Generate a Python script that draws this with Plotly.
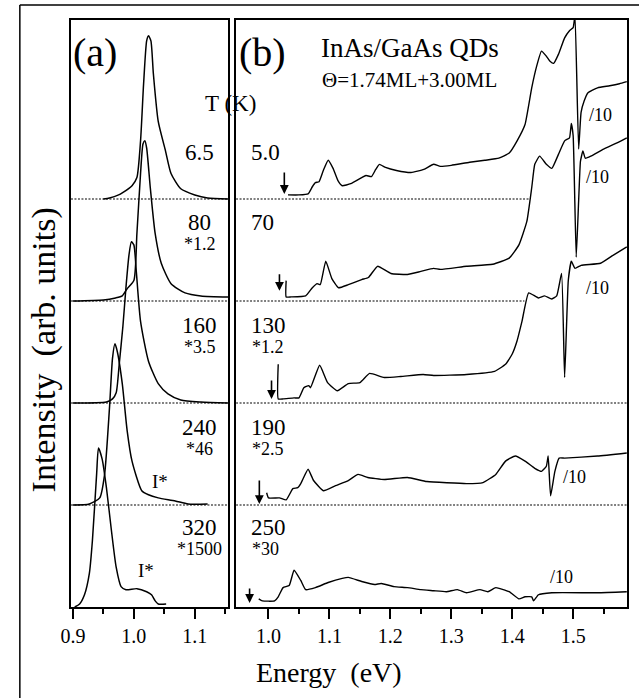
import plotly.graph_objects as go

# ---------------- data (energies in eV, heights in strip units) ----------------
# Panel (a): PL spectra, offsets 4..0
E_a65 = [0.950, 0.960, 0.975, 0.981, 0.997, 1.005, 1.011, 1.016, 1.021, 1.024, 1.028, 1.032, 1.040, 1.052, 1.061, 1.077, 1.100, 1.121, 1.155]
h_a65 = [0.00, 0.01, 0.04, 0.06, 0.13, 0.21, 0.57, 1.13, 1.55, 1.60, 1.55, 1.23, 0.76, 0.47, 0.25, 0.10, 0.04, 0.01, 0.00]

E_a80 = [0.900, 0.950, 0.970, 0.981, 0.989, 1.000, 1.005, 1.011, 1.015, 1.018, 1.021, 1.027, 1.035, 1.045, 1.061, 1.084, 1.110, 1.155]
h_a80 = [0.00, 0.01, 0.03, 0.05, 0.12, 0.20, 0.66, 1.25, 1.54, 1.57, 1.50, 1.11, 0.66, 0.37, 0.17, 0.08, 0.05, 0.04]

E_a160 = [0.900, 0.955, 0.965, 0.971, 0.976, 0.982, 0.987, 0.992, 0.996, 1.000, 1.004, 1.011, 1.024, 1.040, 1.056, 1.077, 1.110, 1.155]
h_a160 = [0.00, 0.01, 0.04, 0.10, 0.38, 0.75, 1.13, 1.45, 1.58, 1.55, 1.29, 0.80, 0.41, 0.19, 0.09, 0.03, 0.01, 0.00]

E_a240 = [0.900, 0.927, 0.944, 0.952, 0.960, 0.965, 0.969, 0.973, 0.981, 0.989, 0.997, 1.013, 1.024, 1.040, 1.068, 1.089, 1.121]
h_a240 = [0.00, 0.01, 0.07, 0.30, 0.95, 1.44, 1.58, 1.50, 1.19, 0.73, 0.43, 0.14, 0.10, 0.07, 0.04, 0.01, 0.01]

E_a320 = [0.903, 0.911, 0.919, 0.927, 0.932, 0.939, 0.942, 0.948, 0.955, 0.963, 0.971, 0.979, 0.987, 1.005, 1.021, 1.029, 1.035, 1.040, 1.053]
h_a320 = [0.00, 0.03, 0.12, 0.33, 0.65, 1.31, 1.56, 1.45, 1.17, 0.76, 0.39, 0.20, 0.17, 0.18, 0.15, 0.12, 0.06, 0.03, 0.03]

# Panel (b): PLE spectra
E_b5 = [1.032, 1.050, 1.065, 1.072, 1.077, 1.083, 1.090, 1.098, 1.106, 1.114, 1.121, 1.135, 1.153, 1.160, 1.169, 1.176, 1.182, 1.192, 1.210, 1.234, 1.255, 1.271, 1.282, 1.300, 1.330, 1.355, 1.378, 1.395, 1.408, 1.421, 1.432, 1.440, 1.448, 1.456, 1.462, 1.468, 1.476, 1.486, 1.494, 1.500, 1.503, 1.509, 1.513, 1.518, 1.524, 1.540, 1.560, 1.576, 1.588]
h_b5 = [0.04, 0.04, 0.05, 0.12, 0.16, 0.17, 0.28, 0.38, 0.30, 0.18, 0.13, 0.15, 0.21, 0.23, 0.22, 0.29, 0.34, 0.31, 0.28, 0.26, 0.29, 0.34, 0.32, 0.33, 0.36, 0.38, 0.40, 0.45, 0.57, 0.73, 1.09, 1.30, 1.45, 1.40, 1.35, 1.33, 1.42, 1.58, 1.65, 1.68, 1.80, 0.49, 0.85, 0.96, 1.04, 1.09, 1.11, 1.13, 1.15]

E_b70 = [1.029, 1.029, 1.037, 1.061, 1.072, 1.080, 1.085, 1.094, 1.104, 1.115, 1.131, 1.153, 1.164, 1.179, 1.201, 1.228, 1.250, 1.271, 1.282, 1.325, 1.368, 1.395, 1.411, 1.424, 1.432, 1.437, 1.445, 1.456, 1.465, 1.476, 1.486, 1.494, 1.497, 1.500, 1.505, 1.509, 1.512, 1.516, 1.520, 1.529, 1.550, 1.572, 1.588]
h_b70 = [0.20, 0.04, 0.04, 0.05, 0.13, 0.17, 0.16, 0.39, 0.22, 0.13, 0.16, 0.21, 0.23, 0.34, 0.27, 0.26, 0.29, 0.32, 0.31, 0.34, 0.36, 0.42, 0.55, 0.78, 1.11, 1.34, 1.42, 1.34, 1.30, 1.44, 1.57, 1.60, 1.74, 1.62, 0.43, 0.98, 1.37, 1.47, 1.40, 1.42, 1.49, 1.55, 1.60]

E_b130 = [1.016, 1.016, 1.024, 1.042, 1.050, 1.058, 1.066, 1.069, 1.084, 1.097, 1.113, 1.131, 1.150, 1.166, 1.190, 1.217, 1.254, 1.271, 1.325, 1.371, 1.389, 1.400, 1.408, 1.416, 1.427, 1.443, 1.453, 1.465, 1.473, 1.481, 1.486, 1.492, 1.497, 1.503, 1.513, 1.545, 1.566, 1.588]
h_b130 = [0.38, 0.04, 0.04, 0.05, 0.05, 0.15, 0.17, 0.15, 0.37, 0.20, 0.12, 0.19, 0.20, 0.29, 0.25, 0.26, 0.28, 0.27, 0.28, 0.31, 0.38, 0.48, 0.61, 0.80, 1.08, 1.03, 1.05, 1.02, 1.05, 1.27, 0.25, 1.20, 1.39, 1.32, 1.35, 1.37, 1.45, 1.53]

E_b190 = [0.997, 1.000, 1.018, 1.029, 1.040, 1.048, 1.053, 1.065, 1.074, 1.090, 1.110, 1.131, 1.147, 1.163, 1.190, 1.228, 1.260, 1.325, 1.352, 1.373, 1.389, 1.405, 1.421, 1.437, 1.448, 1.456, 1.459, 1.463, 1.470, 1.477, 1.486, 1.540, 1.588]
h_b190 = [0.12, 0.07, 0.07, 0.05, 0.16, 0.17, 0.21, 0.35, 0.24, 0.14, 0.19, 0.24, 0.30, 0.27, 0.25, 0.27, 0.23, 0.21, 0.22, 0.30, 0.43, 0.48, 0.43, 0.36, 0.33, 0.38, 0.48, 0.09, 0.33, 0.46, 0.46, 0.48, 0.51]

E_b250 = [0.984, 0.990, 1.010, 1.016, 1.024, 1.034, 1.042, 1.053, 1.061, 1.077, 1.098, 1.121, 1.131, 1.153, 1.174, 1.185, 1.206, 1.228, 1.250, 1.271, 1.292, 1.310, 1.325, 1.347, 1.360, 1.373, 1.395, 1.411, 1.421, 1.432, 1.435, 1.443, 1.465, 1.540, 1.588]
h_b250 = [0.08, 0.06, 0.06, 0.10, 0.19, 0.21, 0.36, 0.26, 0.17, 0.19, 0.24, 0.28, 0.29, 0.25, 0.22, 0.23, 0.20, 0.19, 0.17, 0.16, 0.15, 0.17, 0.14, 0.17, 0.15, 0.19, 0.15, 0.08, 0.10, 0.10, 0.06, 0.12, 0.14, 0.14, 0.15]

offsets = [4, 3, 2, 1, 0]
temps_a = ["6.5", "80", "160", "240", "320"]
scales_a = ["", "*1.2", "*3.5", "*46", "*1500"]
temps_b = ["5.0", "70", "130", "190", "250"]
scales_b = ["", "", "*1.2", "*2.5", "*30"]
arrow_E = [1.026, 1.018, 1.005, 0.985, 0.969]
arrow_h = [0.05, 0.10, 0.04, 0.01, 0.04]
arrow_len = [23, 18, 20, 25, 16]
baseline_end_b = [1.427, 1.420, 1.5887, 1.5887]

spectra_a = [(E_a65, h_a65), (E_a80, h_a80), (E_a160, h_a160), (E_a240, h_a240), (E_a320, h_a320)]
spectra_b = [(E_b5, h_b5), (E_b70, h_b70), (E_b130, h_b130), (E_b190, h_b190), (E_b250, h_b250)]

W, H = 639, 698
FONT = "Liberation Serif"

def px(x):
    return x / W

def py(y):
    return 1 - y / H

fig = go.Figure()

# dotted baselines
for i, off in enumerate([4, 3, 2, 1]):
    fig.add_trace(go.Scatter(x=[0.8968, 1.1548], y=[off, off], mode="lines",
                             line=dict(color="black", width=1.1, dash="2px,1.5px"),
                             xaxis="x", yaxis="y", showlegend=False, hoverinfo="skip"))
    fig.add_trace(go.Scatter(x=[0.9468, baseline_end_b[i]], y=[off, off], mode="lines",
                             line=dict(color="black", width=1.1, dash="2px,1.5px"),
                             xaxis="x2", yaxis="y2", showlegend=False, hoverinfo="skip"))

for (E, h), off in zip(spectra_a, offsets):
    fig.add_trace(go.Scatter(x=E, y=[v + off for v in h], mode="lines",
                             line=dict(color="black", width=1.5, shape="spline", smoothing=0.6),
                             xaxis="x", yaxis="y", showlegend=False))

for (E, h), off in zip(spectra_b, offsets):
    fig.add_trace(go.Scatter(x=E, y=[v + off for v in h], mode="lines",
                             line=dict(color="black", width=1.4, shape="spline", smoothing=0.4),
                             xaxis="x2", yaxis="y2", showlegend=False))

axis_common = dict(showline=True, mirror=True, linecolor="black", linewidth=2,
                   showgrid=False, zeroline=False)
yr = [0, (607 - 20) / 102]
fig.update_layout(
    width=W, height=H, margin=dict(l=0, r=0, t=0, b=0),
    paper_bgcolor="white", plot_bgcolor="white",
    xaxis=dict(domain=[px(61), px(221)], range=[0.8968, 1.1548],
               tickvals=[0.9, 1.0, 1.1], ticktext=["0.9", "1.0", "1.1"],
               ticks="outside", ticklen=10, tickwidth=2, tickcolor="black",
               tickfont=dict(size=20, family=FONT, color="black"),
               minor=dict(tickvals=[0.95, 1.05, 1.15], ticks="outside", ticklen=5,
                          tickwidth=2, tickcolor="black"),
               anchor="y", **axis_common),
    yaxis=dict(domain=[py(607), py(20)], range=yr, showticklabels=False, ticks="",
               anchor="x", **axis_common),
    xaxis2=dict(domain=[px(229), px(627)], range=[0.9468, 1.5887],
                tickvals=[1.0, 1.1, 1.2, 1.3, 1.4, 1.5],
                ticktext=["1.0", "1.1", "1.2", "1.3", "1.4", "1.5"],
                ticks="outside", ticklen=10, tickwidth=2, tickcolor="black",
                tickfont=dict(size=20, family=FONT, color="black"),
                minor=dict(tickvals=[1.05, 1.15, 1.25, 1.35, 1.45, 1.55], ticks="outside",
                           ticklen=5, tickwidth=2, tickcolor="black"),
                anchor="y2", **axis_common),
    yaxis2=dict(domain=[py(607), py(20)], range=yr, showticklabels=False, ticks="",
                anchor="x2", **axis_common),
)

ann = []
def add_text(x, y, s, size, xanchor="center"):
    ann.append(dict(x=px(x), y=py(y), xref="paper", yref="paper", text=s, showarrow=False,
                    xanchor=xanchor, yanchor="middle",
                    font=dict(family=FONT, size=size, color="black")))

add_text(85, 53, "(a)", 40)
add_text(256, 53, "(b)", 40)
add_text(313, 48, "InAs/GaAs QDs", 27, "left")
add_text(314, 80, "Θ=1.74ML+3.00ML", 21, "left")
add_text(223, 103, "T (K)", 23)

row_y = [152, 222, 325, 427, 527]
for i in range(5):
    add_text(192, row_y[i], temps_a[i], 23)
    add_text(242, row_y[i], temps_b[i], 23, "left")
    if scales_a[i]:
        add_text(192, row_y[i] + 22, scales_a[i], 18)
    if scales_b[i]:
        add_text(243, row_y[i] + 22, scales_b[i], 18, "left")

for (x, y) in [(600, 115), (597, 177), (597, 288), (573, 477), (560, 577)]:
    add_text(x, y, "/10", 18)

add_text(152, 482, "I*", 19)
add_text(137, 570, "I*", 19)

add_text(324, 672, "Energy\u00a0\u00a0(eV)", 28)
ann.append(dict(x=px(34), y=py(350), xref="paper", yref="paper",
                text="Intensity\u00a0\u00a0(arb. units)", showarrow=False, textangle=-90,
                xanchor="center", yanchor="middle",
                font=dict(family=FONT, size=34, color="black")))

# arrows marking detection energies
for E, hh, off, L in zip(arrow_E, arrow_h, offsets, arrow_len):
    ann.append(dict(x=E, y=hh + off, xref="x2", yref="y2", text="", showarrow=True,
                    ax=0, ay=-L, arrowhead=2, arrowsize=1.1, arrowwidth=1.6,
                    arrowcolor="black"))

fig.update_layout(annotations=ann)

# outer frame (top and left edges)
fig.add_shape(type="line", xref="paper", yref="paper", x0=px(9), x1=1.01, y0=py(5), y1=py(5),
              line=dict(color="black", width=1.5))
fig.add_shape(type="line", xref="paper", yref="paper", x0=px(9), x1=px(9), y0=py(5), y1=-0.01,
              line=dict(color="black", width=1.5))

fig.write_html("out.html")
